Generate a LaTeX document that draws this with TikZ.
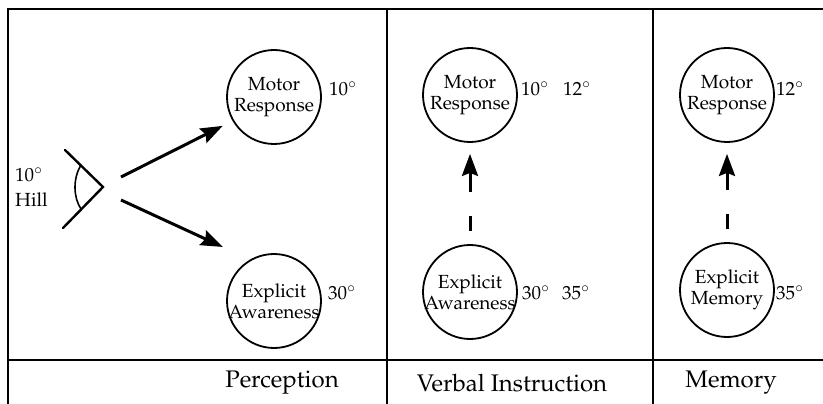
\documentclass[tikz,border=0pt]{standalone}
\usepackage[T1]{fontenc}
\usepackage{mathpazo}
\usepackage{tikz}
\usetikzlibrary{arrows.meta,positioning,calc}
\tikzset{
  frame/.style={line width=1.8pt,draw=black},
  circ/.style={circle,draw,line width=1.8pt,minimum size=94pt,inner sep=-8pt,align=center,font=\fontsize{19}{21}\selectfont},
  deg/.style={anchor=west,inner sep=0pt,font=\fontsize{19}{22}\selectfont},
  foot/.style={inner sep=0pt,font=\fontsize{24}{28}\selectfont},
  arr/.style={-{Stealth[length=22pt,width=16pt,inset=3pt]},line width=3pt,shorten >=11pt},
  darr/.style={arr,dash pattern=on 15pt off 24pt on 80pt off 0pt,shorten <=13pt},
  eyeline/.style={line width=2.4pt,line cap=round},
}
\begin{document}
\begin{tikzpicture}[x=1pt,y=-1pt]
  \useasboundingbox (0,0) rectangle (823,404);
  \draw[frame] (8,404) -- (8,9) -- (823,9);
  \draw[frame] (8,360) -- (823,360);
  \draw[frame] (387,9) -- (387,404);
  \draw[frame] (653,9) -- (653,404);

  \node[circ] (mr1) at (274,97) {Motor\\Response};
  \node[circ] (ea1) at (274,301) {Explicit\\Awareness};
  \node[deg] (d1) at (329,89) {10$^\circ$};
  \node[deg] (d2) at (328,293) {30$^\circ$};

  \coordinate (eye) at (103,187);
  \draw[eyeline] (65,150) -- (eye) -- (63,228);
  \draw[line width=1.6pt] (81,165) .. controls (73,178) and (73,197) .. (81,209);
  \node[anchor=west,align=left,inner sep=0pt,font=\fontsize{19}{25}\selectfont] (hill) at (15,187) {10$^\circ$\\Hill};

  \coordinate (o1) at (121,177);
  \coordinate (o2) at (121,200);
  \draw[arr] (o1) -- (mr1.210);
  \draw[arr,shorten >=30pt] (o2) -- (ea1.120);

  \node[circ] (mr2) at (470,95) {Motor\\Response};
  \node[circ] (ea2) at (470,292) {Explicit\\Awareness};
  \node[deg] (d3) at (521,89) {10$^\circ$};
  \node[deg] (d4) at (563,89) {12$^\circ$};
  \node[deg] (d5) at (522,293) {30$^\circ$};
  \node[deg] (d6) at (562,293) {35$^\circ$};
  \draw[darr] (ea2) -- (mr2);

  \node[circ] (mr3) at (727,95) {Motor\\Response};
  \node[circ] (em3) at (727,290) {Explicit\\Memory};
  \node[deg] (d7) at (776,89) {12$^\circ$};
  \node[deg] (d8) at (776,293) {35$^\circ$};
  \draw[darr] (em3) -- (mr3);

  \node[foot] (f1) at (282,383) {Perception};
  \node[foot] (f2) at (512,383) {Verbal Instruction};
  \node[foot] (f3) at (731,383) {Memory};
\end{tikzpicture}
\end{document}
